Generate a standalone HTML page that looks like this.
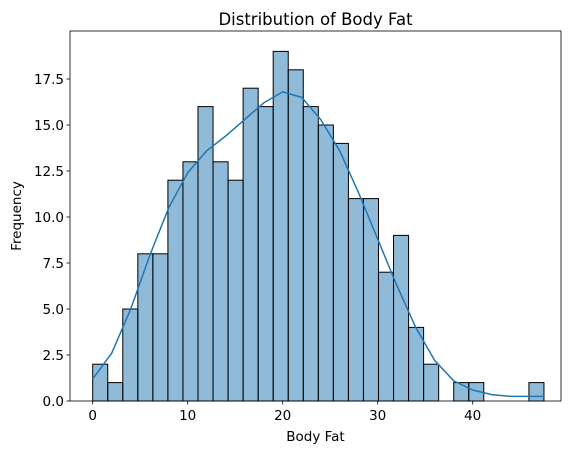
<!DOCTYPE html>
<html><head><meta charset="utf-8"><style>
body{margin:0;background:#fff;}
svg{display:block;font-family:"DejaVu Sans","Liberation Sans",sans-serif;}
</style></head><body>
<svg id="chart" width="576" height="455"></svg>
<script>
const counts=[2,1,5,8,8,12,13,16,13,12,17,16,19,18,16,15,14,11,11,7,9,4,2,0,1,1,0,0,0,1];
const binStart=0, binEnd=47.5;
const kdeX=[0,2,4,6,8,10,12,14,16,18,20,22,24,26,28,30,32,34,36,38,40,42,44,46,47.5];
const kdeY=[1.2,2.6,5.0,7.9,10.5,12.4,13.6,14.4,15.3,16.2,16.8,16.5,15.3,13.6,11.3,8.8,6.3,4.0,2.2,1.1,0.6,0.35,0.25,0.25,0.25];
const xTicks=[0,10,20,30,40];
const yTicks=[0,2.5,5,7.5,10,12.5,15,17.5];
const yTickLabels=["0.0","2.5","5.0","7.5","10.0","12.5","15.0","17.5"];
const NS="http://www.w3.org/2000/svg";
const svg=document.getElementById('chart');
const L=70,R=561,T=31,B=401;
const sx=v=>92.7+v*9.5;
const sy=v=>B-v*18.4;
function mk(tag,attrs,parent){const e=document.createElementNS(NS,tag);for(const k in attrs)e.setAttribute(k,attrs[k]);(parent||svg).appendChild(e);return e;}
const w=(binEnd-binStart)/counts.length;
counts.forEach((c,i)=>{
  if(c<=0)return;
  const x0=sx(binStart+i*w),x1=sx(binStart+(i+1)*w);
  const r=mk('rect',{x:x0,y:sy(c),width:x1-x0,height:sy(0)-sy(c),fill:'rgba(31,119,180,0.5)',stroke:'#000','stroke-width':1});
  
  
});
let d='';
kdeX.forEach((x,i)=>{d+=(i?'L':'M')+sx(x).toFixed(1)+','+sy(kdeY[i]).toFixed(1);});
const p=mk('path',{d:d,fill:'none',stroke:'#1f77b4','stroke-width':1.5,'stroke-linejoin':'round'});


const frame=mk('rect',{x:L,y:T,width:R-L,height:B-T,fill:'none',stroke:'#000','stroke-width':0.8});


xTicks.forEach(t=>{
  mk('line',{x1:sx(t),x2:sx(t),y1:B,y2:B+3.5,stroke:'#000','stroke-width':0.8});
  const tx=mk('text',{x:sx(t),y:B+19,'text-anchor':'middle','font-size':13.5});
  tx.textContent=t;
  
  
});
yTicks.forEach((t,i)=>{
  mk('line',{x1:L-3.5,x2:L,y1:sy(t),y2:sy(t),stroke:'#000','stroke-width':0.8});
  const tx=mk('text',{x:L-6,y:sy(t)+5,'text-anchor':'end','font-size':13.5});
  tx.textContent=yTickLabels[i];
  
  
});
const title=mk('text',{x:(L+R)/2,y:25,'text-anchor':'middle','font-size':16.5});
title.textContent='Distribution of Body Fat';


const xl=mk('text',{x:(L+R)/2,y:441,'text-anchor':'middle','font-size':13.5});
xl.textContent='Body Fat';


const yl=mk('text',{x:0,y:0,'text-anchor':'middle','font-size':13.5,transform:'translate(21,'+((T+B)/2)+') rotate(-90)'});
yl.textContent='Frequency';


</script>
</body></html>
